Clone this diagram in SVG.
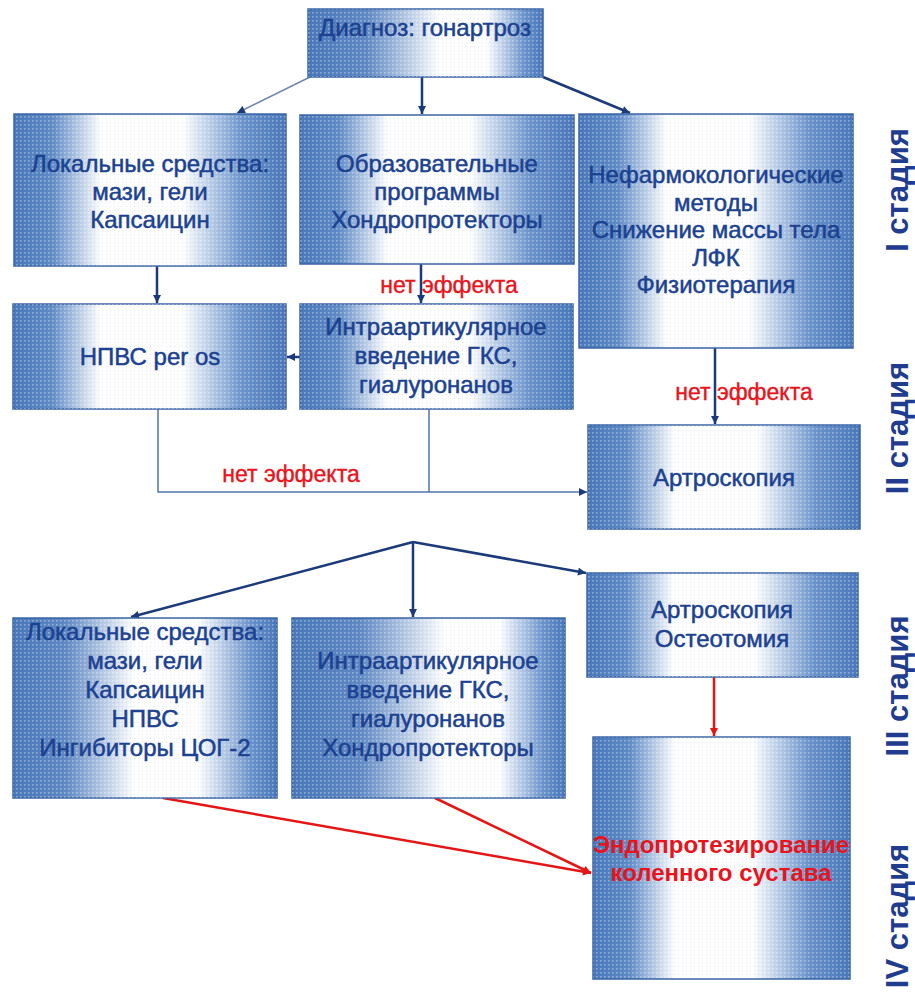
<svg xmlns="http://www.w3.org/2000/svg" width="915" height="997" viewBox="0 0 915 997">
<defs>
<style>
.box{stroke:#3a66a6;stroke-width:1.5}
.tex{fill:url(#dots)}
.t{font-family:"Liberation Sans",Arial,sans-serif;font-size:24px;fill:#1b4190;stroke:#1b4190;stroke-width:0.5;text-anchor:middle}
.red{font-family:"Liberation Sans",Arial,sans-serif;font-size:23px;fill:#e8141c;stroke:#e8141c;stroke-width:0.4;text-anchor:middle}
.endo{font-family:"Liberation Sans",Arial,sans-serif;font-size:24px;font-weight:bold;fill:#e8141c;text-anchor:middle}
.stage{font-family:"Liberation Sans",Arial,sans-serif;font-size:31px;font-weight:bold;fill:#1f3c8e;text-anchor:middle}
.nv{stroke:#1b3a7a;stroke-width:2.5;fill:none;marker-end:url(#ah)}
.thin{stroke:#4f76aa;stroke-width:1.5;fill:none}
.rd{stroke:#e51515;stroke-width:2.5;fill:none;marker-end:url(#ahr)}
</style>
<linearGradient id="gA" x1="0" y1="0" x2="1" y2="0">
<stop offset="0" stop-color="#4a78ba"/><stop offset="0.14" stop-color="#5f8bc6"/><stop offset="0.32" stop-color="#ffffff"/><stop offset="0.62" stop-color="#ffffff"/><stop offset="0.84" stop-color="#6c94cb"/><stop offset="1" stop-color="#4a78ba"/>
</linearGradient>
<linearGradient id="gB" x1="0" y1="0" x2="1" y2="0">
<stop offset="0" stop-color="#4a78ba"/><stop offset="0.25" stop-color="#6089c4"/><stop offset="0.56" stop-color="#ffffff"/><stop offset="0.76" stop-color="#ffffff"/><stop offset="0.92" stop-color="#6c94cb"/><stop offset="1" stop-color="#4a78ba"/>
</linearGradient>
<linearGradient id="gC" x1="0" y1="0" x2="1" y2="0">
<stop offset="0" stop-color="#4a78ba"/><stop offset="0.2" stop-color="#6089c4"/><stop offset="0.46" stop-color="#ffffff"/><stop offset="0.7" stop-color="#ffffff"/><stop offset="0.9" stop-color="#6c94cb"/><stop offset="1" stop-color="#4a78ba"/>
</linearGradient>
<pattern id="dots" width="4" height="4" patternUnits="userSpaceOnUse">
<rect x="0" y="0" width="1.6" height="1.6" fill="#ffffff" opacity="0.35"/>
<rect x="2" y="2" width="1" height="1" fill="#1d4596" opacity="0.12"/>
</pattern>
<marker id="ah" viewBox="0 0 10 10" refX="10" refY="5" markerWidth="9" markerHeight="8" markerUnits="userSpaceOnUse" orient="auto">
<path d="M0,0 L10,5 L0,10 z" fill="#1b3a7a"/>
</marker>
<marker id="ahr" viewBox="0 0 10 10" refX="10" refY="5" markerWidth="9" markerHeight="8" markerUnits="userSpaceOnUse" orient="auto">
<path d="M0,0 L10,5 L0,10 z" fill="#e51515"/>
</marker>
</defs>
<rect width="915" height="997" fill="#ffffff"/>

<g id="connectors">
<line x1="310" y1="77" x2="237" y2="113" stroke="#6f86ad" stroke-width="1.5" marker-end="url(#ah)"/>
<line class="nv" x1="422" y1="77" x2="422" y2="114"/>
<line class="nv" x1="543" y1="77" x2="630" y2="113"/>
<line class="nv" x1="157" y1="266" x2="157" y2="303"/>
<line class="nv" x1="421" y1="264" x2="421" y2="303"/>
<line class="nv" x1="300" y1="357" x2="287" y2="357"/>
<line class="nv" x1="715" y1="348" x2="715" y2="424"/>
<polyline class="thin" points="158,409 158,492 587,492" marker-end="url(#ah)"/>
<line class="thin" x1="429" y1="409" x2="429" y2="492"/>
<line class="nv" x1="413" y1="542" x2="131" y2="617"/>
<line class="nv" x1="413" y1="542" x2="413" y2="617"/>
<line class="nv" x1="413" y1="542" x2="586" y2="573"/>
<line class="rd" x1="714" y1="677" x2="714" y2="736"/>
<line class="rd" x1="163" y1="798" x2="591" y2="873"/>
<line class="rd" x1="435" y1="798" x2="591" y2="873" stroke-width="2"/>
</g>

<g id="n-diag">
<rect class="box" x="308" y="9" width="235" height="68" fill="url(#gB)"/><rect class="tex" x="308" y="9" width="235" height="68"/>
<text class="t" x="425" y="36">Диагноз: гонартроз</text>
</g>
<g id="n-local1">
<rect class="box" x="14" y="114" width="272" height="152" fill="url(#gA)"/><rect class="tex" x="14" y="114" width="272" height="152"/>
<text class="t" x="150" y="172">Локальные средства:</text>
<text class="t" x="150" y="200">мази, гели</text>
<text class="t" x="150" y="228">Капсаицин</text>
</g>
<g id="n-edu">
<rect class="box" x="300" y="115" width="274" height="149" fill="url(#gA)"/><rect class="tex" x="300" y="115" width="274" height="149"/>
<text class="t" x="437" y="172">Образовательные</text>
<text class="t" x="437" y="200">программы</text>
<text class="t" x="437" y="228">Хондропротекторы</text>
</g>
<g id="n-nonpharm">
<rect class="box" x="579" y="114" width="274" height="234" fill="url(#gA)"/><rect class="tex" x="579" y="114" width="274" height="234"/>
<text class="t" x="716" y="183">Нефармокологические</text>
<text class="t" x="716" y="210.5">методы</text>
<text class="t" x="716" y="238">Снижение массы тела</text>
<text class="t" x="716" y="265.5">ЛФК</text>
<text class="t" x="716" y="293">Физиотерапия</text>
</g>
<g id="n-npvs">
<rect class="box" x="13" y="304" width="273" height="105" fill="url(#gA)"/><rect class="tex" x="13" y="304" width="273" height="105"/>
<text class="t" x="150" y="365">НПВС per os</text>
</g>
<g id="n-intra1">
<rect class="box" x="300" y="304" width="273" height="105" fill="url(#gA)"/><rect class="tex" x="300" y="304" width="273" height="105"/>
<text class="t" x="436" y="335">Интраартикулярное</text>
<text class="t" x="436" y="364">введение ГКС,</text>
<text class="t" x="436" y="393">гиалуронанов</text>
</g>
<g id="n-artro">
<rect class="box" x="588" y="425" width="272" height="104" fill="url(#gA)"/><rect class="tex" x="588" y="425" width="272" height="104"/>
<text class="t" x="724" y="486">Артроскопия</text>
</g>
<g id="n-local2">
<rect class="box" x="13" y="618" width="264" height="180" fill="url(#gC)"/><rect class="tex" x="13" y="618" width="264" height="180"/>
<text class="t" x="145" y="640">Локальные средства:</text>
<text class="t" x="145" y="669">мази, гели</text>
<text class="t" x="145" y="698">Капсаицин</text>
<text class="t" x="145" y="727">НПВС</text>
<text class="t" x="145" y="756">Ингибиторы ЦОГ-2</text>
</g>
<g id="n-intra2">
<rect class="box" x="292" y="618" width="273" height="180" fill="url(#gB)"/><rect class="tex" x="292" y="618" width="273" height="180"/>
<text class="t" x="428" y="669">Интраартикулярное</text>
<text class="t" x="428" y="698">введение ГКС,</text>
<text class="t" x="428" y="727">гиалуронанов</text>
<text class="t" x="428" y="756">Хондропротекторы</text>
</g>
<g id="n-osteo">
<rect class="box" x="587" y="573" width="271" height="104" fill="url(#gA)"/><rect class="tex" x="587" y="573" width="271" height="104"/>
<text class="t" x="722" y="618">Артроскопия</text>
<text class="t" x="722" y="647">Остеотомия</text>
</g>
<g id="n-endo">
<rect class="box" x="593" y="737" width="257" height="242" fill="url(#gA)"/><rect class="tex" x="593" y="737" width="257" height="242"/>
<text class="endo" x="721" y="853">Эндопротезирование</text>
<text class="endo" x="721" y="881">коленного сустава</text>
</g>

<g id="labels">
<text class="red" x="449" y="293">нет эффекта</text>
<text class="red" x="744" y="400">нет эффекта</text>
<text class="red" x="291" y="482">нет эффекта</text>
<text class="stage" transform="translate(908,190) rotate(-90)">I стадия</text>
<text class="stage" transform="translate(908,428) rotate(-90)">II стадия</text>
<text class="stage" transform="translate(908,686) rotate(-90)">III стадия</text>
<text class="stage" transform="translate(908,916) rotate(-90)">IV стадия</text>
</g>
</svg>
